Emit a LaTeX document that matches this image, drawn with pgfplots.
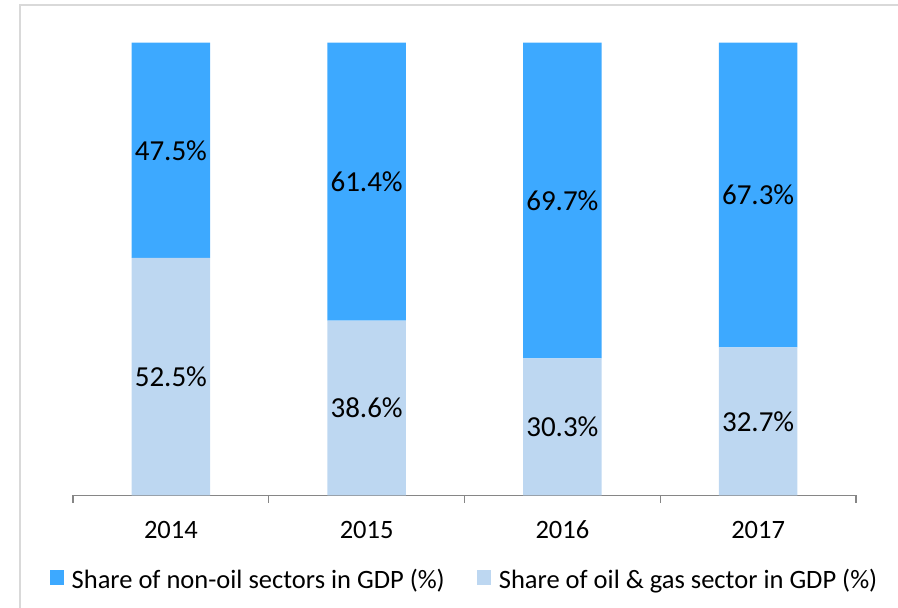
\documentclass[border=0pt]{standalone}
\usepackage{fontspec}
\setmainfont{Carlito}
\usepackage{pgfplots}
\pgfplotsset{compat=1.18}
\definecolor{nonoil}{HTML}{3DA9FF}
\definecolor{oilgas}{HTML}{BDD7F1}
\definecolor{framegray}{HTML}{D9D9D9}
\definecolor{axisgray}{HTML}{868686}
\begin{document}
\begin{tikzpicture}[x=1pt,y=1pt]
\useasboundingbox (0,0) rectangle (898,608);
\begin{scope}
\clip (0,0) rectangle (898,608);
\draw[framegray, line width=1.5pt] (20,-10) -- (20,603) -- (910,603);
\end{scope}
\begin{axis}[
 at={(73pt,112.5pt)}, anchor=south west,
 scale only axis, width=783pt, height=452.8pt,
 ybar stacked, bar width=0.4,
 xmin=-0.5, xmax=3.5, ymin=0, ymax=100,
 axis x line*=bottom, axis y line=none,
 x axis line style={axisgray, line width=1.2pt},
 xtick={0,1,2,3}, xticklabels={2014,2015,2016,2017},
 major tick length=0pt,
 minor xtick={-0.5,0.5,1.5,2.5,3.5},
 minor tick length=7.5pt,
 tick align=outside,
 minor tick style={axisgray, line width=1.2pt},
 xticklabel style={anchor=center, yshift=-34.5pt, font=\fontsize{26.5}{31}\selectfont},
 point meta=rawy,
 nodes near coords={\pgfmathprintnumber[fixed,fixed zerofill,precision=1]{\pgfplotspointmeta}\%},
 every node near coord/.append style={anchor=center, text=black, font=\fontsize{29}{34}\selectfont},
 /pgf/number format/assume math mode=true,
 legend style={at={(0.5,-0.1866)}, anchor=center, draw=none, legend columns=2, font=\fontsize{26.5}{31}\selectfont, /tikz/every even column/.append style={column sep=30pt}, /tikz/every odd column/.append style={column sep=6pt}},
 legend image code/.code={\fill[#1] (0pt,-5pt) rectangle (14pt,10pt);},
 reverse legend,
]
\addplot[fill=oilgas, draw=none] coordinates {(0,52.5) (1,38.6) (2,30.3) (3,32.7)};
\addlegendentry{Share of oil \& gas sector in GDP (\%)}
\addplot[fill=nonoil, draw=none] coordinates {(0,47.5) (1,61.4) (2,69.7) (3,67.3)};
\addlegendentry{Share of non-oil sectors in GDP (\%)}
\end{axis}
\end{tikzpicture}
\end{document}
